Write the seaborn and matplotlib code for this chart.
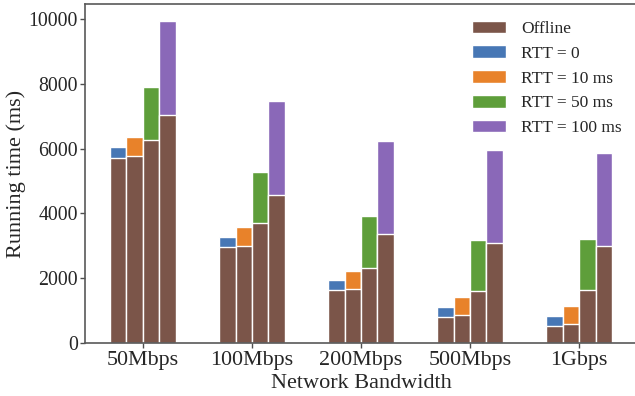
import pandas as pd
import matplotlib.pyplot as plt
import seaborn as sns
from matplotlib.patches import Patch

# values (ms)
bandwidths = ["50Mbps", "100Mbps", "200Mbps", "500Mbps", "1Gbps"]
rtt_labels = ["RTT = 0", "RTT = 10 ms", "RTT = 50 ms", "RTT = 100 ms"]

# offline part of each bar (brown base)
offline_rtt0 = [5710, 2963, 1646, 812, 535]
offline_rtt10 = [5780, 2993, 1677, 864, 597]
offline_rtt50 = [6265, 3693, 2325, 1605, 1636]
offline_rtt100 = [7046, 4567, 3354, 3076, 2984]

# total running time (top of each bar)
total_rtt0 = [6050, 3285, 1934, 1100, 833]
total_rtt10 = [6357, 3570, 2212, 1410, 1142]
total_rtt50 = [7910, 5267, 3920, 3189, 3219]
total_rtt100 = [9937, 7459, 6234, 5946, 5863]

brown = "#7B5549"
rtt_colors = ["#4777B5", "#E8822A", "#5E9E3A", "#8A68B8"]

offline = [offline_rtt0, offline_rtt10, offline_rtt50, offline_rtt100]
total = [total_rtt0, total_rtt10, total_rtt50, total_rtt100]
rows = []
for lab, off, tot in zip(rtt_labels, offline, total):
    for bw, o, t in zip(bandwidths, off, tot):
        rows.append({"bandwidth": bw, "rtt": lab, "offline": o, "total": t})
df = pd.DataFrame(rows)

sns.set_style("ticks")
plt.rcParams["font.family"] = ["Liberation Serif", "DejaVu Serif"]

fig = plt.figure(figsize=(6.35, 3.96), dpi=100)
ax = fig.add_axes([85 / 635, 53 / 396, 552 / 635, 339 / 396])

#total bars first, offline part drawn over them
sns.barplot(data=df, x="bandwidth", y="total", hue="rtt", hue_order=rtt_labels,
            palette=rtt_colors, saturation=1, width=0.6, dodge=True,
            edgecolor="white", linewidth=1, errorbar=None, legend=False, ax=ax)
sns.barplot(data=df, x="bandwidth", y="offline", hue="rtt", hue_order=rtt_labels,
            palette=[brown] * 4, saturation=1, width=0.6, dodge=True,
            edgecolor="white", linewidth=1, errorbar=None, legend=False, ax=ax)

ax.set_xlim(-0.53, 4.53)
ax.set_ylim(0, 10460)
ax.set_yticks([0, 2000, 4000, 6000, 8000, 10000])
ax.set_xlabel("Network Bandwidth", fontsize=16, labelpad=3)
ax.set_ylabel("Running time (ms)", fontsize=16, labelpad=2)
ax.tick_params(axis="x", labelsize=15.8, color="0.3", width=1, length=3.5, pad=2)
ax.tick_params(axis="y", labelsize=14.3, color="0.3", width=1, length=3.5, pad=1.5)
for s in ax.spines.values():
    s.set_color("0.35")
    s.set_linewidth(1.2)

handles = [Patch(facecolor=brown, edgecolor="white", label="Offline")]
handles += [Patch(facecolor=c, edgecolor="white", label=l) for c, l in zip(rtt_colors, rtt_labels)]
ax.legend(handles=handles, loc="upper right", frameon=False, fontsize=12.5,
          handlelength=1.95, handleheight=0.75, labelspacing=0.48,
          handletextpad=0.85, bbox_to_anchor=(1.0, 0.997))

fig.savefig("out.png", dpi=100)
